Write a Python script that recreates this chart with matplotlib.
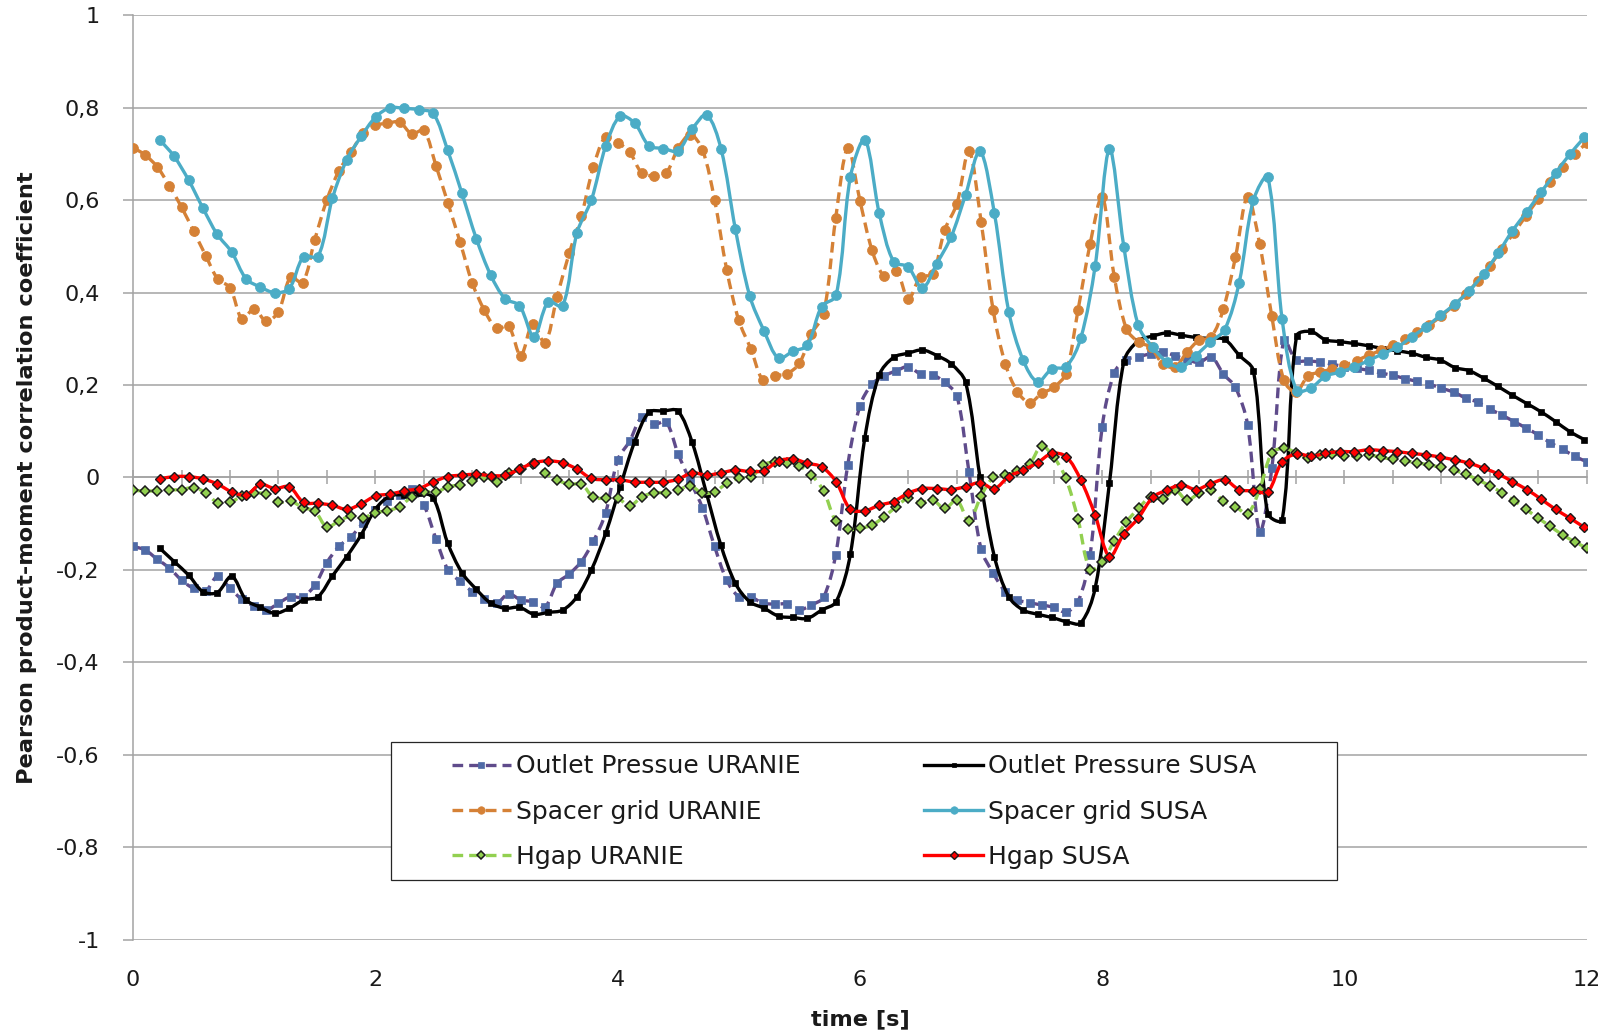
import numpy as np
import matplotlib
matplotlib.use("Agg")
import matplotlib.pyplot as plt
from matplotlib.path import Path
from matplotlib.patches import PathPatch, Rectangle
from matplotlib.lines import Line2D
from matplotlib.ticker import FuncFormatter

# ---------------------------------------------------------------- data
# URANIE samples every 0.1 s, SUSA samples on a slightly coarser grid
time_uranie = np.round(np.arange(0.0, 12.0001, 0.1), 1)
time_susa = np.linspace(0.22, 11.98, 100)

outlet_uranie = [
    -0.149, -0.157, -0.177, -0.196, -0.222, -0.240, -0.245, -0.213, -0.240, -0.264,
    -0.278, -0.287, -0.272, -0.258, -0.259, -0.233, -0.184, -0.149, -0.128, -0.098,
    -0.070, -0.050, -0.037, -0.024, -0.059, -0.133, -0.200, -0.225, -0.247, -0.264,
    -0.272, -0.252, -0.265, -0.269, -0.280, -0.229, -0.209, -0.182, -0.138, -0.077,
    0.038, 0.079, 0.130, 0.115, 0.120, 0.050, -0.008, -0.066, -0.149, -0.222,
    -0.258, -0.259, -0.272, -0.274, -0.274, -0.286, -0.276, -0.259, -0.167, 0.028,
    0.155, 0.202, 0.220, 0.231, 0.240, 0.224, 0.222, 0.206, 0.177, 0.012,
    -0.155, -0.207, -0.247, -0.265, -0.271, -0.276, -0.281, -0.291, -0.269, -0.168,
    0.110, 0.227, 0.255, 0.261, 0.268, 0.271, 0.264, 0.255, 0.249, 0.261,
    0.224, 0.195, 0.114, -0.117, 0.020, 0.298, 0.254, 0.252, 0.250, 0.245,
    0.240, 0.236, 0.232, 0.226, 0.221, 0.214, 0.208, 0.202, 0.193, 0.185,
    0.172, 0.163, 0.148, 0.135, 0.121, 0.107, 0.092, 0.075, 0.061, 0.046,
    0.034,
]

outlet_susa = [
    -0.153, -0.182, -0.211, -0.247, -0.249, -0.214, -0.265, -0.281, -0.294, -0.283,
    -0.265, -0.258, -0.213, -0.171, -0.124, -0.068, -0.040, -0.037, -0.033, -0.044,
    -0.141, -0.206, -0.242, -0.272, -0.283, -0.281, -0.296, -0.292, -0.287, -0.258,
    -0.200, -0.120, -0.020, 0.077, 0.141, 0.144, 0.144, 0.076, -0.035, -0.147,
    -0.229, -0.269, -0.283, -0.300, -0.303, -0.305, -0.287, -0.269, -0.165, 0.086,
    0.222, 0.260, 0.269, 0.276, 0.264, 0.246, 0.206, 0.001, -0.171, -0.258,
    -0.287, -0.296, -0.303, -0.312, -0.315, -0.240, -0.011, 0.251, 0.296, 0.306,
    0.313, 0.308, 0.303, 0.301, 0.299, 0.265, 0.231, -0.078, -0.092, 0.306,
    0.316, 0.298, 0.294, 0.290, 0.285, 0.279, 0.274, 0.269, 0.260, 0.254,
    0.238, 0.231, 0.215, 0.197, 0.178, 0.160, 0.142, 0.121, 0.099, 0.082,
]

spacer_uranie = [
    0.714, 0.698, 0.672, 0.631, 0.585, 0.533, 0.480, 0.429, 0.411, 0.343,
    0.365, 0.338, 0.359, 0.433, 0.422, 0.515, 0.601, 0.664, 0.704, 0.746,
    0.762, 0.767, 0.769, 0.744, 0.751, 0.675, 0.593, 0.509, 0.421, 0.362,
    0.323, 0.327, 0.264, 0.333, 0.291, 0.391, 0.485, 0.566, 0.672, 0.737,
    0.725, 0.704, 0.659, 0.653, 0.659, 0.713, 0.742, 0.709, 0.601, 0.450,
    0.340, 0.278, 0.211, 0.220, 0.225, 0.247, 0.311, 0.354, 0.561, 0.713,
    0.599, 0.492, 0.436, 0.447, 0.387, 0.434, 0.440, 0.536, 0.592, 0.706,
    0.554, 0.362, 0.246, 0.186, 0.162, 0.182, 0.195, 0.225, 0.362, 0.505,
    0.607, 0.434, 0.322, 0.293, 0.282, 0.246, 0.239, 0.271, 0.297, 0.304,
    0.365, 0.477, 0.607, 0.505, 0.349, 0.210, 0.185, 0.220, 0.228, 0.235,
    0.243, 0.253, 0.265, 0.275, 0.287, 0.300, 0.314, 0.330, 0.350, 0.372,
    0.397, 0.425, 0.458, 0.495, 0.530, 0.567, 0.603, 0.640, 0.672, 0.700,
    0.724,
]

spacer_susa = [
    0.731, 0.695, 0.644, 0.583, 0.526, 0.488, 0.430, 0.412, 0.400, 0.409,
    0.478, 0.478, 0.604, 0.688, 0.738, 0.780, 0.800, 0.799, 0.796, 0.788,
    0.709, 0.615, 0.517, 0.438, 0.387, 0.372, 0.305, 0.380, 0.371, 0.530,
    0.601, 0.718, 0.782, 0.767, 0.718, 0.712, 0.707, 0.754, 0.785, 0.712,
    0.538, 0.393, 0.317, 0.258, 0.273, 0.286, 0.370, 0.394, 0.651, 0.731,
    0.572, 0.467, 0.456, 0.410, 0.463, 0.521, 0.612, 0.706, 0.572, 0.359,
    0.254, 0.207, 0.235, 0.240, 0.301, 0.457, 0.710, 0.499, 0.329, 0.282,
    0.250, 0.239, 0.264, 0.293, 0.320, 0.420, 0.600, 0.650, 0.342, 0.188,
    0.194, 0.219, 0.228, 0.239, 0.253, 0.268, 0.282, 0.304, 0.326, 0.351,
    0.375, 0.404, 0.441, 0.485, 0.534, 0.575, 0.618, 0.659, 0.700, 0.736,
]

hgap_uranie = [
    -0.028, -0.029, -0.029, -0.027, -0.026, -0.022, -0.033, -0.055, -0.054, -0.040,
    -0.034, -0.036, -0.054, -0.051, -0.065, -0.073, -0.107, -0.094, -0.083, -0.087,
    -0.076, -0.072, -0.063, -0.042, -0.031, -0.032, -0.020, -0.016, -0.007, 0.002,
    -0.009, 0.009, 0.018, 0.030, 0.010, -0.005, -0.015, -0.014, -0.043, -0.045,
    -0.045, -0.061, -0.042, -0.033, -0.033, -0.027, -0.018, -0.034, -0.031, -0.013,
    -0.002, 0.000, 0.027, 0.034, 0.032, 0.025, 0.005, -0.029, -0.094, -0.112,
    -0.110, -0.103, -0.085, -0.063, -0.045, -0.055, -0.049, -0.067, -0.049, -0.094,
    -0.040, 0.000, 0.005, 0.013, 0.029, 0.068, 0.044, -0.002, -0.090, -0.200,
    -0.182, -0.137, -0.096, -0.067, -0.042, -0.047, -0.027, -0.049, -0.034, -0.027,
    -0.051, -0.063, -0.078, -0.025, 0.053, 0.063, 0.054, 0.042, 0.049, 0.051,
    0.047, 0.047, 0.049, 0.044, 0.039, 0.036, 0.032, 0.027, 0.022, 0.016,
    0.007, -0.005, -0.018, -0.033, -0.050, -0.069, -0.088, -0.106, -0.124, -0.139,
    -0.153,
]

hgap_susa = [
    -0.003, 0.002, 0.002, -0.003, -0.014, -0.031, -0.038, -0.015, -0.024, -0.020,
    -0.054, -0.056, -0.060, -0.069, -0.057, -0.040, -0.036, -0.029, -0.024, -0.010,
    0.002, 0.005, 0.007, 0.004, 0.005, 0.018, 0.032, 0.036, 0.032, 0.018,
    -0.002, -0.005, -0.005, -0.010, -0.010, -0.010, -0.004, 0.010, 0.005, 0.010,
    0.016, 0.013, 0.015, 0.036, 0.040, 0.031, 0.023, -0.009, -0.069, -0.072,
    -0.060, -0.052, -0.034, -0.024, -0.024, -0.026, -0.020, -0.011, -0.024, 0.002,
    0.016, 0.032, 0.052, 0.045, -0.005, -0.081, -0.171, -0.122, -0.088, -0.043,
    -0.027, -0.016, -0.026, -0.014, -0.005, -0.026, -0.029, -0.031, 0.034, 0.051,
    0.046, 0.052, 0.056, 0.056, 0.060, 0.058, 0.056, 0.052, 0.049, 0.044,
    0.038, 0.031, 0.020, 0.008, -0.009, -0.026, -0.047, -0.069, -0.088, -0.108,
]

y_ticks = [-1.0, -0.8, -0.6, -0.4, -0.2, 0.0, 0.2, 0.4, 0.6, 0.8, 1.0]
x_ticks = [0, 2, 4, 6, 8, 10, 12]

series = [
    dict(label="Outlet Pressue URANIE", t=time_uranie, y=outlet_uranie,
         color="#5f4b8b", dashed=True, marker="s", ms=6.0,
         mfc="#4f6aa6", mec="#4f6aa6", mew=0.5),
    dict(label="Outlet Pressure SUSA", t=time_susa, y=outlet_susa,
         color="#000000", dashed=False, marker="s", ms=4.8,
         mfc="#000000", mec="#000000", mew=0.5),
    dict(label="Spacer grid URANIE", t=time_uranie, y=spacer_uranie,
         color="#d58136", dashed=True, marker="o", ms=7.2,
         mfc="#d58136", mec="#d58136", mew=0.5),
    dict(label="Spacer grid SUSA", t=time_susa, y=spacer_susa,
         color="#4bacc6", dashed=False, marker="o", ms=7.2,
         mfc="#4bacc6", mec="#4bacc6", mew=0.5),
    dict(label="Hgap URANIE", t=time_uranie, y=hgap_uranie,
         color="#92d050", dashed=True, marker="D", ms=5.4,
         mfc="#92d050", mec="#1a1a1a", mew=1.1),
    dict(label="Hgap SUSA", t=time_susa, y=hgap_susa,
         color="#ff0000", dashed=False, marker="D", ms=5.2,
         mfc="#ff0000", mec="#1a1a1a", mew=1.0),
]

LINE_W = 2.4
DASH = (0, (3.2, 1.8))
GRID_C = "#a3a3a3"


def smooth_path(ax, x, y):
    """Smoothed cubic Bezier path through the points.

    Control-point offsets are weighted by neighbouring segment lengths
    measured on screen, which keeps overshoot small next to steep jumps.
    """
    pts = np.column_stack([np.asarray(x, float), np.asarray(y, float)])
    scr = ax.transData.transform(pts)
    n = len(pts)

    def dist(i, j):
        return float(np.hypot(*(scr[j] - scr[i])))

    verts = [pts[0]]
    codes = [Path.MOVETO]
    for i in range(n - 1):
        i0 = max(i - 1, 0)
        i3 = min(i + 2, n - 1)
        d01, d12, d23 = dist(i0, i), dist(i, i + 1), dist(i + 1, i3)
        w1 = d12 / (d01 + d12) / 3.0 if d01 + d12 > 0 else 0.0
        w2 = d12 / (d12 + d23) / 3.0 if d12 + d23 > 0 else 0.0
        c1 = pts[i] + (pts[i + 1] - pts[i0]) * w1
        c2 = pts[i + 1] - (pts[i3] - pts[i]) * w2
        verts += [c1, c2, pts[i + 1]]
        codes += [Path.CURVE4] * 3
    return Path(verts, codes)


plt.rcParams["font.family"] = ["DejaVu Sans"]

fig = plt.figure(figsize=(16.19, 10.36), dpi=100)
ax = fig.add_axes([0.0822, 0.0931, 0.8979, 0.8920])
ax.set_xlim(0, 12)
ax.set_ylim(-1, 1)

# horizontal gridlines and axes styling
ax.set_yticks(y_ticks)
ax.yaxis.set_major_formatter(FuncFormatter(
    lambda v, _: ("%g" % round(v, 1)).replace(".", ",")))
ax.yaxis.grid(True, color=GRID_C, lw=1.1, zorder=0)
ax.set_axisbelow(True)
for side in ("top", "right", "bottom"):
    ax.spines[side].set_visible(False)
ax.spines["left"].set_color(GRID_C)
ax.spines["left"].set_linewidth(1.1)
ax.tick_params(axis="y", direction="out", length=7, width=1.1, color=GRID_C,
               pad=17, labelsize=16, labelcolor="#1a1a1a")

ax.set_xticks(x_ticks)
ax.tick_params(axis="x", length=0, pad=22, labelsize=16, labelcolor="#1a1a1a")

# horizontal axis line crossing at zero, with minor tick marks
zero_axis = ax.secondary_xaxis(0.5)
zero_axis.set_xticks(np.arange(0, 12.0001, 0.4), labels=[""] * 31)
zero_axis.tick_params(direction="inout", length=9.5, width=1.1, color=GRID_C)
for sp in zero_axis.spines.values():
    sp.set_color(GRID_C)
    sp.set_linewidth(1.1)

# data series
handles = []
for idx, s in enumerate(series):
    ls = DASH if s["dashed"] else "solid"
    patch = PathPatch(smooth_path(ax, s["t"], s["y"]), fill=False,
                      edgecolor=s["color"], lw=LINE_W, linestyle=ls,
                      capstyle="butt", joinstyle="round", zorder=3 + 2 * idx)
    ax.add_patch(patch)
    ax.plot(s["t"], s["y"], linestyle="none", marker=s["marker"],
            ms=s["ms"], mfc=s["mfc"], mec=s["mec"], mew=s["mew"],
            zorder=4 + 2 * idx)
    handles.append(Line2D([], [], color=s["color"], lw=LINE_W, linestyle=ls,
                          marker=s["marker"], ms=s["ms"] * 0.75, mfc=s["mfc"],
                          mec=s["mec"], mew=s["mew"]))

ax.set_ylabel("Pearson product-moment correlation coefficient",
              fontsize=16.2, fontweight="bold", color="#1a1a1a")
ax.yaxis.set_label_coords(-0.0661, 0.5)
ax.set_xlabel("time [s]", fontsize=16.2, fontweight="bold", color="#1a1a1a")
ax.xaxis.set_label_coords(0.5, -0.075)

# legend box with two columns
ax.add_patch(Rectangle((0.1774, 0.0645), 0.6506, 0.149, transform=ax.transAxes,
                       facecolor="white", edgecolor="#262626", lw=0.9,
                       zorder=20))
order = [0, 2, 4, 1, 3, 5]
leg = ax.legend([handles[i] for i in order],
                [series[i]["label"] for i in order],
                ncol=2, loc="upper left", bbox_to_anchor=(0.2194, 0.2005),
                frameon=False, borderpad=0, borderaxespad=0,
                handlelength=2.35, handletextpad=0.2, columnspacing=4.95,
                labelspacing=0.85, fontsize=18)
leg.set_zorder(21)
for txt in leg.get_texts():
    txt.set_color("#1a1a1a")

fig.savefig("out.png", dpi=100, facecolor="white")
